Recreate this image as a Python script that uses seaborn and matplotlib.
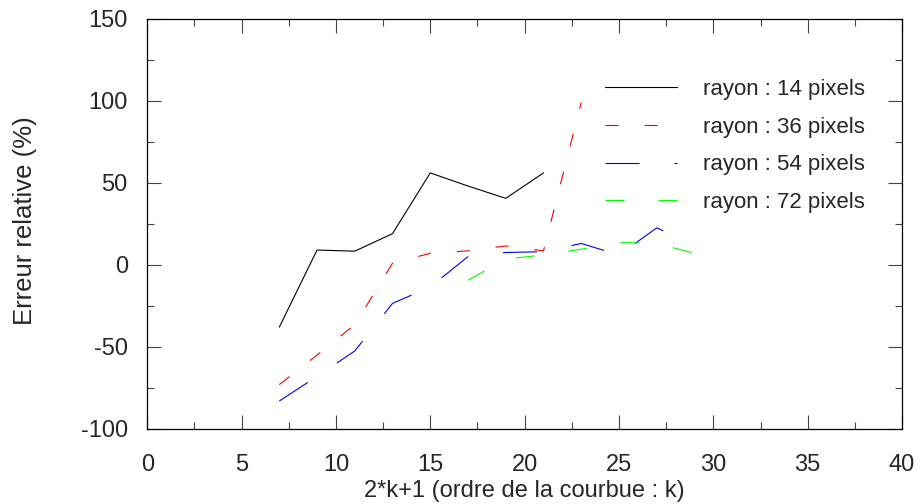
import numpy as np
import pandas as pd
import matplotlib
matplotlib.use("Agg")
import matplotlib.pyplot as plt
from matplotlib.ticker import MultipleLocator
import seaborn as sns

# values
x_14 = [7, 9, 11, 13, 15, 17, 19, 21]
y_14 = [-38, 9, 8.3, 19, 56, 48, 40.5, 56]
x_36 = [7, 9, 11, 13, 15, 17, 19, 21, 23]
y_36 = [-73, -55, -36.5, 1, 7, 8.5, 11.5, 8.5, 99]
x_54 = [7, 9, 11, 13, 15, 17, 19, 21, 23, 25, 27, 29]
y_54 = [-83, -68, -52.5, -23.5, -13.5, 5, 7.5, 8, 13, 6, 22.5, 12.5]
x_72 = [17, 19, 21, 23, 25, 27, 29]
y_72 = [-9.4, 3.5, 6, 9.5, 13.6, 13, 7]

labels = ["rayon : 14 pixels", "rayon : 36 pixels", "rayon : 54 pixels", "rayon : 72 pixels"]
colors = ["black", "#ff0000", "#0000ff", "#00ff00"]
dashes = ["", (9.4, 18.7), (24.5, 25.2), (13.7, 24.5)]

frames = []
for lab, xs, ys in zip(labels, [x_14, x_36, x_54, x_72], [y_14, y_36, y_54, y_72]):
    frames.append(pd.DataFrame({"x": xs, "y": ys, "serie": lab}))
df = pd.concat(frames, ignore_index=True)

sns.set_style("ticks")
plt.rcParams["font.family"] = ["Liberation Sans", "DejaVu Sans"]
plt.rcParams["lines.scale_dashes"] = False
plt.rcParams["axes.unicode_minus"] = False

fig = plt.figure(figsize=(9.2, 5.04), dpi=100)
ax = fig.add_axes([0.16, 0.149, 0.8205, 0.814])

sns.lineplot(data=df, x="x", y="y", hue="serie", style="serie",
             palette=dict(zip(labels, colors)), dashes=dict(zip(labels, dashes)),
             estimator=None, linewidth=0.8, ax=ax)

ax.set_xlim(0, 40)
ax.set_ylim(-100, 150)
ax.xaxis.set_major_locator(MultipleLocator(5))
ax.xaxis.set_minor_locator(MultipleLocator(2.5))
ax.yaxis.set_major_locator(MultipleLocator(50))
ax.yaxis.set_minor_locator(MultipleLocator(25))
ax.tick_params(which="both", direction="in", top=True, right=True,
               width=0.8, color="#444444", labelsize=17)
ax.tick_params(which="major", length=10)
ax.tick_params(which="minor", length=5)
ax.tick_params(axis="x", pad=18)
ax.tick_params(axis="y", pad=14)
for sp in ax.spines.values():
    sp.set_visible(True)
    sp.set_linewidth(0.9)
    sp.set_color("black")

ax.set_xlabel("2*k+1 (ordre de la courbue : k)", fontsize=17)
ax.set_ylabel("Erreur relative (%)", fontsize=18.5)
ax.xaxis.set_label_coords(0.5, -0.125)
ax.yaxis.set_label_coords(-0.146, 0.507)

handles, labs = ax.get_legend_handles_labels()
ax.legend(handles, labs, loc="upper left", bbox_to_anchor=(0.607, 0.853),
          frameon=False, fontsize=16, handlelength=3.24, handletextpad=1.13,
          labelspacing=0.75, borderpad=0, borderaxespad=0)

fig.savefig("out.png", dpi=100)
